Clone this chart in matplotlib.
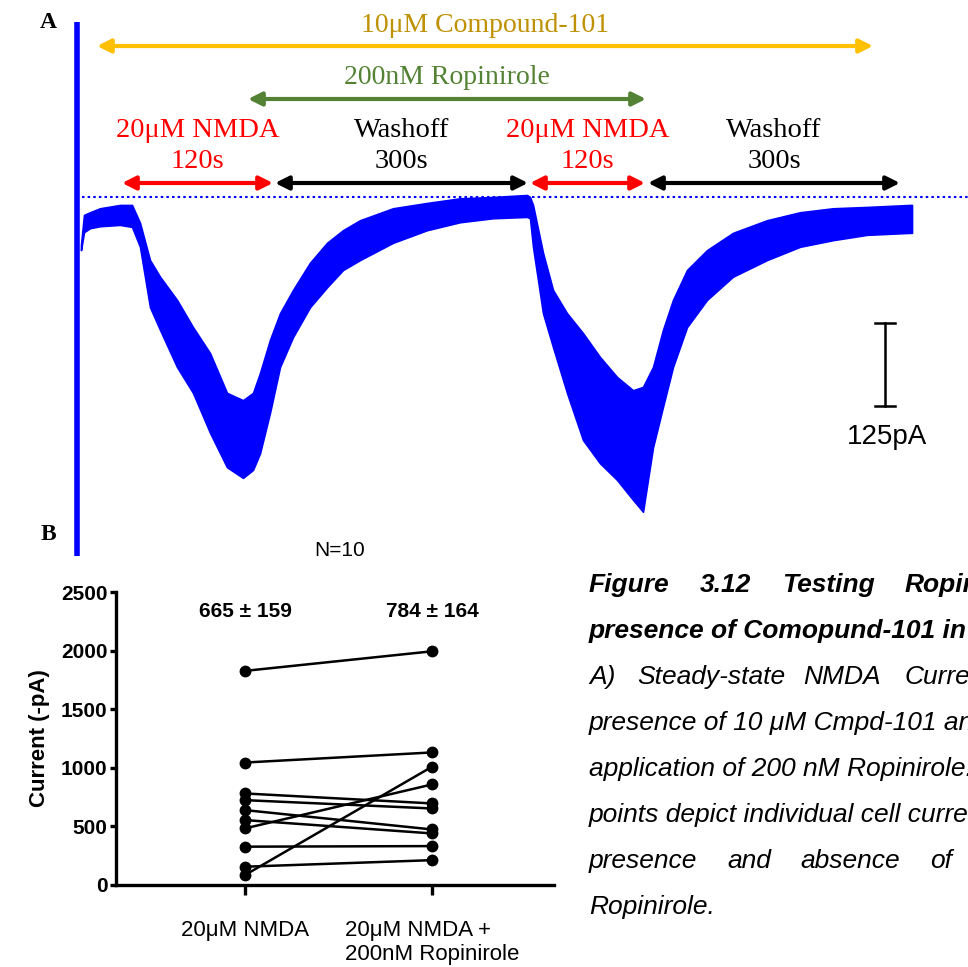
import matplotlib
matplotlib.use("Agg")
import matplotlib.pyplot as plt

SERIF = "Liberation Serif"
SANS = "Liberation Sans"
BLUE = "#0000FF"

# ---- panel A: trace envelope (time in s, current in pA relative to baseline)
trace_t = [1, 4, 10, 20, 40, 52, 60, 70, 80, 97, 113, 130, 147, 163, 173, 180, 190,
           200, 213, 230, 247, 263, 280, 313, 347, 380, 413, 447, 450, 453, 463, 473,
           487, 503, 520, 537, 553, 563, 573, 583, 593, 607, 627, 653, 687, 720, 753,
           787, 830, 832]
trace_hi = [-72, -27, -23, -17, -12, -12, -39, -95, -120, -155, -196, -235, -295, -306,
            -295, -265, -215, -175, -140, -99, -69, -50, -35, -17, -9, -2, 0, 3, 0, -12,
            -84, -140, -175, -205, -241, -271, -291, -286, -256, -200, -155, -110, -80,
            -54, -35, -23, -17, -15, -12, -12]
trace_lo = [-80, -53, -47, -44, -42, -45, -75, -166, -200, -256, -295, -355, -407, -423,
            -411, -386, -325, -256, -211, -166, -136, -110, -95, -69, -50, -38, -32, -30,
            -32, -75, -175, -226, -295, -366, -401, -426, -456, -474, -377, -316, -256,
            -196, -155, -120, -95, -75, -65, -57, -54, -54]
scale_pa = 125

# application bars: (label, start px, end px, y px, arrow colour, text colour, text y)
bars = [
    ("10μM Compound-101", 97, 873, 46, "#FFC000", "#BF9000", 25),
    ("200nM Ropinirole", 248, 646, 99, "#548235", "#548235", 78),
]
steps = [
    ("20μM NMDA\n120s", 122, 273, "#FF0000"),
    ("Washoff\n300s", 275, 528, "black"),
    ("20μM NMDA\n120s", 530, 645, "#FF0000"),
    ("Washoff\n300s", 648, 900, "black"),
]

# ---- panel B: paired currents
groups = ["20μM NMDA", "20μM NMDA +\n200nM Ropinirole"]
nmda = [1827, 1045, 781, 724, 639, 554, 483, 327, 156, 85]
ropi = [1994, 1131, 696, 653, 474, 440, 858, 332, 212, 1009]
means = ["665 ± 159", "784 ± 164"]

caption = [
    (["Figure", "3.12", "Testing", "Ropinirole"], [589, 700, 782, 905], True),
    (["presence of Comopund-101 in the"], [589], True),
    (["A)", "Steady-state", "NMDA", "Currents"], [589, 637, 803, 905], False),
    (["presence of 10 μM Cmpd-101 and"], [589], False),
    (["application of 200 nM Ropinirole."], [589], False),
    (["points depict individual cell currents"], [589], False),
    (["presence", "and", "absence", "of"], [589, 727, 800, 930], False),
    (["Ropinirole."], [589], False),
]

W, H = 968, 967
fig = plt.figure(figsize=(W / 100, H / 100), dpi=100)

ov = fig.add_axes([0, 0, 1, 1])
ov.set_xlim(0, W)
ov.set_ylim(H, 0)
ov.axis("off")

# trace axes: 1 px per s, 0.664 px per pA, baseline at y=197
t0, y0, ppa = 80, 197, 0.664
tr = fig.add_axes([t0 / W, 1 - 520 / H, (W - t0) / W, 340 / H])
tr.set_xlim(0, W - t0)
tr.set_ylim(-(520 - y0) / ppa, (y0 - 180) / ppa)
tr.axis("off")
tr.fill_between(trace_t, trace_lo, trace_hi, color=BLUE, lw=1.2, edgecolor=BLUE)
tr.axhline(0, xmin=2 / (W - t0), color=BLUE, lw=1.5, ls=(0, (1.2, 1.5)))
sb_t, sb_top = 805, -190
tr.plot([sb_t, sb_t], [sb_top, sb_top - scale_pa], color="black", lw=1.8)
for yv in (sb_top, sb_top - scale_pa):
    tr.plot([sb_t - 10, sb_t + 10], [yv, yv], color="black", lw=1.8)
tr.text(sb_t + 2, sb_top - scale_pa - 46, f"{scale_pa}pA", ha="center", va="center",
        fontsize=20, family=SANS)

ov.plot([77, 77], [22, 556], color=BLUE, lw=4, solid_capstyle="butt")
ov.text(48, 22, "A", fontsize=17, fontweight="bold", family=SERIF, ha="center", va="center")
ov.text(48, 535, "B", fontsize=17, fontweight="bold", family=SERIF, ha="center", va="center")
ov.text(340, 550, "N=10", fontsize=15, family=SANS, ha="center", va="center")

arrow_kw = dict(arrowstyle="<|-|>", lw=3, mutation_scale=20, shrinkA=0, shrinkB=0)
for label, x1, x2, y, c_arrow, c_text, ty in bars:
    ov.annotate("", xy=(x2, y), xytext=(x1, y), arrowprops=dict(color=c_arrow, **arrow_kw))
    ov.text((x1 + x2) / 2, ty, label, color=c_text, fontsize=20, family=SERIF,
            ha="center", va="center")
for label, x1, x2, c in steps:
    ov.annotate("", xy=(x2, 183), xytext=(x1, 183), arrowprops=dict(color=c, **arrow_kw))
    ov.text((x1 + x2) / 2, 146, label, color=c, fontsize=20.5, family=SERIF,
            ha="center", va="center", linespacing=1.35)

# caption (justified lines placed word by word; runs off the right edge as in the source)
for i, (words, xs, bold) in enumerate(caption):
    for w, x in zip(words, xs):
        ov.text(x, 585 + 46 * i, w, fontsize=19, family=SANS, style="italic",
                fontweight="bold" if bold else "normal", ha="left", va="center")

# ---- panel B
axb = fig.add_axes([116 / W, 1 - 885 / H, (554 - 116) / W, 293 / H])
axb.set_facecolor("none")
for a, b in zip(nmda, ropi):
    axb.plot([1, 2], [a, b], color="black", lw=1.8, marker="o", ms=7.5, clip_on=False)
axb.set_xlim(1 - 129 / 187, 2 + 122 / 187)
axb.set_ylim(0, 2500)
axb.set_yticks([0, 500, 1000, 1500, 2000, 2500])
axb.set_xticks([1, 2])
axb.set_xticklabels(groups, fontsize=16, family=SANS, multialignment="left")
for lab in axb.get_yticklabels():
    lab.set_fontweight("bold")
    lab.set_family(SANS)
    lab.set_fontsize(15)
for s in ("top", "right"):
    axb.spines[s].set_visible(False)
for s in ("left", "bottom"):
    axb.spines[s].set_linewidth(2.4)
axb.tick_params(axis="y", length=4, width=2.4, pad=2)
axb.tick_params(axis="x", length=7, width=2.4, pad=18)
axb.set_ylabel("Current (-pA)", fontsize=16, fontweight="bold", family=SANS, labelpad=8)
for x, m in zip([1, 2], means):
    axb.text(x, 2330, m, ha="center", va="center", fontsize=15, fontweight="bold",
             family=SANS)

fig.savefig("out.png", dpi=100)
